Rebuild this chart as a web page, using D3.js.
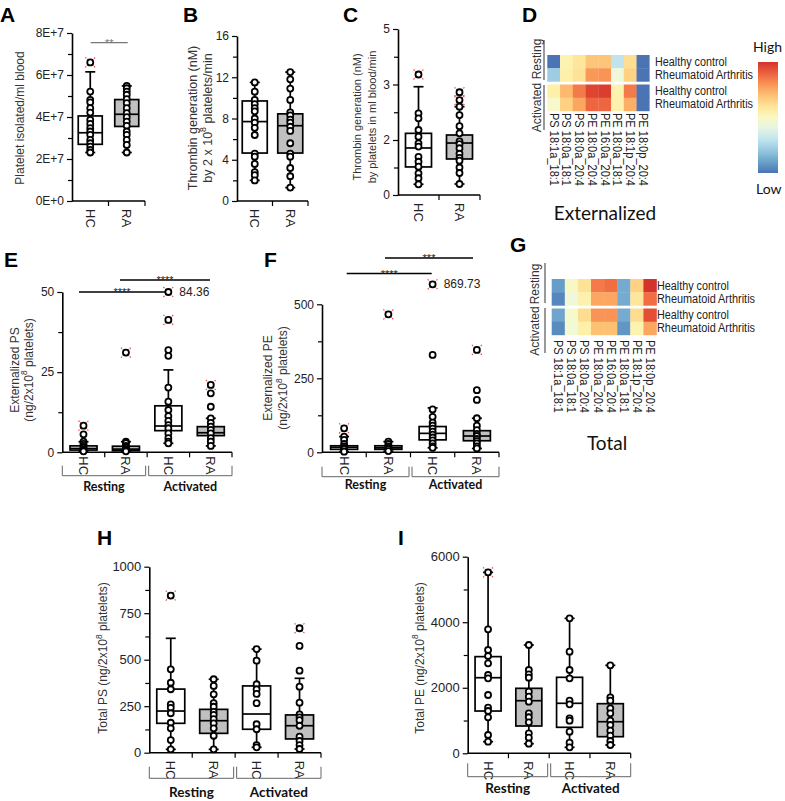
<!DOCTYPE html>
<html><head><meta charset="utf-8">
<script src="https://cdn.jsdelivr.net/npm/d3@7"></script>
<style>body{margin:0;background:#fff} svg{display:block}</style>
</head><body><svg id="c" width="785" height="801"></svg>
<script>
// ---------------- DATA ----------------
const twoCats = ["HC","RA"];
const fourCats = ["HC","RA","HC","RA"];
const conditions = ["Resting","Activated"];
const rowNames = ["Healthy control","Rheumatoid Arthritis"];
const lipids = ["PS 18:1a_18:1","PS 18:0a_18:1","PS 18:0a_20:4","PE 18:0a_20:4","PE 16:0a_20:4","PE 18:0a_18:1","PE 18:1p_20:4","PE 18:0p_20:4"];

// box stats: [low whisker, Q1, median, Q3, high whisker]
// Panel A
const aTicks = [0,2e7,4e7,6e7,8e7];
const aTickLabels = ["0E+0","2E+7","4E+7","6E+7","8E+7"];
const aMinor = [1e7,3e7,5e7,7e7];
const aStats = [[2.31e7,2.7e7,3.25e7,4.05e7,6.15e7],[2.31e7,3.55e7,4.13e7,4.83e7,5.48e7]];
const aPoints = [[5.21e7,4.82e7,4.7e7,4.42e7,4.21e7,3.86e7,3.67e7,3.47e7,3.31e7,3.15e7,2.91e7,2.75e7,2.59e7,2.43e7,2.31e7],
                 [5.48e7,5.37e7,5.21e7,5.06e7,4.85e7,4.66e7,4.42e7,4.18e7,3.99e7,3.78e7,3.58e7,3.31e7,3.15e7,2.91e7,2.67e7,2.31e7]];
const aOutliers = [[6.6e7],[]];
// Panel B
const bTicks = [0,4,8,12,16];
const bMinor = [2,6,10,14];
const bStats = [[2.0,4.65,7.7,9.7,11.5],[1.3,4.65,7.3,8.45,12.5]];
const bPoints = [[11.5,10.6,9.8,9.4,9.0,8.7,8.0,7.6,7.1,6.4,4.6,4.3,3.6,2.8,2.5,2.0],
                 [12.5,11.8,10.9,9.8,8.6,8.3,7.9,7.6,7.2,6.8,5.6,4.6,4.3,3.2,2.4,1.3]];
const bOutliers = [[],[]];
// Panel C
const cTicks = [0,2,3,5];
const cMinor = [1,2.5,4];
const cStats = [[0.39,1.02,1.71,2.12,2.96],[0.4,1.31,1.89,2.09,2.6]];
const cPoints = [[2.48,2.39,2.18,2.06,1.88,1.76,1.39,1.21,1.03,0.79,0.61,0.39],
                 [2.6,2.45,2.25,2.12,1.95,1.85,1.7,1.5,1.35,1.25,1.0,0.8,0.4]];
const cOutliers = [[3.36],[2.86,2.72]];
// Panel E (externalized PS)
const eTicks = [0,25,50];
const eMinor = [12.5,37.5];
const eStats = [[0.3,0.7,1.2,2.0,3.3],[0.3,0.5,1.0,1.9,3.3],[2.8,6.75,8.2,14.5,25.7],[2.0,5.2,6.1,8.0,10.6]];
const ePoints = [[5.6,3.3,2.6,2.0,1.5,1.0,0.6,0.3],[3.3,2.9,2.0,1.5,1.0,0.6,0.3],
                 [31.9,30.1,20.2,15.8,13.2,11.3,9.8,8.5,7.5,5.9,4.4,3.3,2.8],[18.4,14.2,10.6,9.2,8.0,7.0,5.9,4.4,3.3,2.0]];
const eOutliers = [[8.3],[31.1],[84.36,41.3],[21]];
// Panel F (externalized PE)
const fTicks = [0,250,500];
const fMinor = [125,375];
const fStats = [[2,10,17,22,53],[4,10,15,22,36],[15,42,64,87,150],[13,39,55,73,115]];
const fPoints = [[53,42,28,20,15,10,2],[36,28,20,15,10,4],
                 [329,145,120,100,90,80,70,60,50,40,30,20,15],[210,177,115,90,75,62,55,45,38,30,20,13]];
const fOutliers = [[81],[466],[869.73],[346]];
// Panel H (total PS)
const hTicks = [0,250,500,750,1000];
const hMinor = [125,375,625,875];
const hStats = [[18,158,224,342,615],[18,104,172,233,395],[29,126,208,359,557],[20,74,145,203,400]];
const hPoints = [[448,376,341,260,241,212,161,131,68,18],[395,359,314,266,247,220,203,181,158,131,91,18],
                 [557,495,368,341,316,266,153,126,41,29],[574,441,355,269,206,190,175,145,86,63,41,20]];
const hOutliers = [[845],[],[],[669]];
// Panel I (total PE)
const iTicks = [0,2000,4000,6000];
const iMinor = [1000,3000,5000];
const iStats = [[354,1290,2307,2950,5523],[293,833,1605,1983,3305],[183,793,1526,2319,4119],[253,507,964,1514,2685]];
const iPoints = [[3784,3152,2969,2746,2390,2289,1779,1392,1291,1099,558,354],[3305,2542,2411,2307,1880,1727,1575,1221,1100,946,610,476,293],
                 [4119,3100,2542,2289,1605,1495,1068,995,659,323,183],[2685,1709,1605,1373,1221,995,864,690,537,375,253]];
const iOutliers = [[5523],[],[],[]];
// Heatmaps (relative level 0 = low, 1 = high)
const dRestHC  = [0,0.54,0.59,0.69,0.69,0.30,0.62,0];
const dRestRA  = [0.22,0.56,0.61,0.79,0.80,0.44,0.66,0];
const dActHC   = [0.56,0.72,0.85,0.96,0.975,0.54,0.85,0];
const dActRA   = [0.475,0.66,0.76,0.89,0.89,0.55,0.74,0];
const gRestHC  = [0.09,0.49,0.61,0.85,0.875,0.125,0.66,1.0];
const gRestRA  = [0.04,0.44,0.55,0.76,0.76,0.125,0.59,0.875];
const gActHC   = [0.11,0.475,0.625,0.8,0.8,0.125,0.625,0.94];
const gActRA   = [0.05,0.45,0.56,0.7,0.7,0.075,0.54,0.76];

// ---------------- DRAW ----------------
const FONT = '"Liberation Sans", Arial, Helvetica, sans-serif';
const FONT2 = 'Lato, "Open Sans", sans-serif';
const svg = d3.select("#c");
svg.append("rect").attr("width",785).attr("height",801).attr("fill","#fff");
const heatColor = v => d3.interpolateRdYlBu(0.9 - 0.8*v);

function rich(sel, str, size){
  const parts = str.split(/(\{[^}]*\})/).filter(s=>s.length);
  let sup = false;
  parts.forEach(p=>{
    if (p[0]==="{"){
      sel.append("tspan").attr("font-size",size*0.7).attr("dy",-size*0.4).text(p.slice(1,-1));
      sup = true;
    } else {
      const t = sel.append("tspan").text(p);
      if (sup){ t.attr("dy",size*0.4); sup=false; }
    }
  });
}
function vlabel(x,y,str,size){
  const t = svg.append("text").attr("transform",`translate(${x},${y}) rotate(-90)`)
    .attr("text-anchor","middle").attr("dominant-baseline","central")
    .attr("font-family",FONT).attr("font-size",size).attr("fill","#333");
  rich(t,str,size);
}
function letter(x,y,s){
  svg.append("text").attr("x",x).attr("y",y).attr("font-family",FONT).attr("font-weight","bold")
    .attr("font-size",21).attr("fill","#000").text(s);
}
function sig(x1,x2,y,txt,color){
  svg.append("line").attr("x1",x1).attr("x2",x2).attr("y1",y).attr("y2",y).attr("stroke",color||"#000").attr("stroke-width",1.3);
  svg.append("text").attr("x",(x1+x2)/2).attr("y",y+4).attr("text-anchor","middle").attr("font-family",FONT)
    .attr("font-size",11).attr("fill",color||"#222").text(txt);
}

function boxPanel(c){
  const g = svg.append("g");
  const n = c.cats.length;
  const x = d3.scaleBand().domain(d3.range(n)).range([c.x0,c.x1]);
  const y = c.y;
  const yb = y(0);
  const ax = d3.axisLeft(y).tickValues(c.ticks).tickSize(5).tickSizeOuter(0).tickPadding(3)
    .tickFormat((d,i)=> c.tickLabels ? c.tickLabels[i] : d);
  const ga = g.append("g").attr("transform",`translate(${c.x0},0)`).call(ax)
    .attr("font-family",FONT).attr("font-size",c.fs||12);
  ga.select(".domain").attr("stroke","#000").attr("stroke-width",1.6);
  ga.selectAll(".tick line").attr("stroke","#000").attr("stroke-width",1.2);
  ga.selectAll(".tick text").attr("fill","#222");
  const gm = g.append("g").attr("transform",`translate(${c.x0},0)`)
    .call(d3.axisLeft(y).tickValues(c.minor).tickSize(4).tickFormat(""));
  gm.select(".domain").remove();
  gm.selectAll(".tick line").attr("stroke","#000").attr("stroke-width",1.2);
  // x axis
  g.append("line").attr("x1",c.x0).attr("x2",c.x1).attr("y1",yb).attr("y2",yb).attr("stroke","#000").attr("stroke-width",1.6);
  d3.range(1,n+1).forEach(i=>{
    const xx = c.x0 + i*x.bandwidth();
    g.append("line").attr("x1",xx).attr("x2",xx).attr("y1",yb).attr("y2",yb+5).attr("stroke","#000").attr("stroke-width",1.2);
  });
  // category labels
  c.cats.forEach((cat,i)=>{
    const cx = x(i)+x.bandwidth()/2;
    g.append("text").attr("transform",`translate(${cx},${yb+c.labOff}) rotate(90)`)
      .attr("dominant-baseline","central").attr("font-family",FONT).attr("font-size",c.cfs||13)
      .attr("fill","#222").text(cat);
  });
  // brackets
  if (c.bracket){
    const [bt,bb,ly,lfs] = c.bracket;
    const mid = (c.x0+c.x1)/2;
    [[c.x0,mid-1.5],[mid+1.5,c.x1]].forEach((r,k)=>{
      g.append("path").attr("d",`M${r[0]},${bt}V${bb}H${r[1]}V${bt}`).attr("fill","none").attr("stroke","#666").attr("stroke-width",1);
      g.append("text").attr("x",(r[0]+r[1])/2).attr("y",ly).attr("text-anchor","middle")
        .attr("font-family",FONT2).attr("font-weight","bold").attr("font-size",lfs).attr("fill","#111").text(conditions[k]);
    });
  }
  const ymax = c.ticks[c.ticks.length-1];
  const py = v => v > ymax ? y(ymax) - (c.overflow||0) : y(v);
  const bw = c.bw;
  const SW = 1.7;
  c.stats.forEach((s,i)=>{
    const cx = x(i)+x.bandwidth()/2;
    const fill = c.cats[i]==="RA" ? "#c0c0c0" : "#fff";
    g.append("line").attr("x1",cx).attr("x2",cx).attr("y1",y(s[3])).attr("y2",y(s[4])).attr("stroke","#000").attr("stroke-width",SW);
    g.append("line").attr("x1",cx).attr("x2",cx).attr("y1",y(s[1])).attr("y2",y(s[0])).attr("stroke","#000").attr("stroke-width",SW);
    [s[0],s[4]].forEach(v=>g.append("line").attr("x1",cx-5).attr("x2",cx+5).attr("y1",y(v)).attr("y2",y(v)).attr("stroke","#000").attr("stroke-width",SW));
    g.append("rect").attr("x",cx-bw/2).attr("width",bw).attr("y",y(s[3])).attr("height",y(s[1])-y(s[3]))
      .attr("fill",fill).attr("stroke","#000").attr("stroke-width",SW);
    g.append("line").attr("x1",cx-bw/2).attr("x2",cx+bw/2).attr("y1",y(s[2])).attr("y2",y(s[2])).attr("stroke","#000").attr("stroke-width",SW);
    c.outliers[i].forEach(v=>{
      const yy = py(v);
      [1,-1].forEach(d=>{
        g.append("line").attr("x1",cx-5).attr("x2",cx+5).attr("y1",yy+5*d).attr("y2",yy-5*d)
          .attr("stroke","#e8413c").attr("stroke-width",1.1).attr("stroke-dasharray","1.5,1");
      });
      g.append("circle").attr("cx",cx).attr("cy",yy).attr("r",3).attr("fill","#fff").attr("stroke","#000").attr("stroke-width",1.8);
      if (v > ymax){
        g.append("text").attr("x",cx+11).attr("y",yy).attr("dominant-baseline","central").attr("font-family",FONT)
          .attr("font-size",12).attr("fill","#222").text(d3.format(".2f")(v));
      }
    });
    c.points[i].forEach(v=>{
      g.append("circle").attr("cx",cx).attr("cy",y(v)).attr("r",3).attr("fill","#fff").attr("stroke","#000").attr("stroke-width",1.8);
    });
  });
}

function heatmap(c){
  const g = svg.append("g");
  const x = d3.scaleBand().domain(lipids).range([c.x0,c.x0+c.colW*lipids.length]);
  const blocks = [[c.rest,c.restTop],[c.act,c.actTop]];
  blocks.forEach(([rows,top])=>{
    rows.forEach((vals,r)=>{
      vals.forEach((v,j)=>{
        g.append("rect").attr("x",x(lipids[j])).attr("y",top+r*c.cellH).attr("width",x.bandwidth()+0.3).attr("height",c.cellH+0.3)
          .attr("fill",heatColor(v));
      });
      g.append("text").attr("x",c.rowX).attr("y",top+(r+0.5)*c.cellH).attr("dominant-baseline","central")
        .attr("font-family",FONT).attr("font-size",12).attr("fill","#222")
        .attr("textLength",r===0?72:98).attr("lengthAdjust","spacingAndGlyphs").text(rowNames[r]);
    });
  });
  [[c.restLine,c.restLabY,conditions[0]],[c.actLine,c.actLabY,conditions[1]]].forEach(([ln,ly,lab])=>{
    g.append("line").attr("x1",c.lineX).attr("x2",c.lineX).attr("y1",ln[0]).attr("y2",ln[1]).attr("stroke","#555").attr("stroke-width",1.2);
    g.append("text").attr("transform",`translate(${c.labX},${ly}) rotate(-90)`).attr("text-anchor","middle")
      .attr("dominant-baseline","central").attr("font-family",FONT).attr("font-size",12).attr("fill","#333").text(lab);
  });
  lipids.forEach(l=>{
    g.append("text").attr("transform",`translate(${x(l)+x.bandwidth()/2},${c.labTop}) rotate(90)`)
      .attr("dominant-baseline","central").attr("font-family",FONT).attr("font-size",12).attr("fill","#222")
      .attr("textLength",73).attr("lengthAdjust","spacingAndGlyphs").text(l);
  });
  g.append("text").attr("x",c.titleX).attr("y",c.titleY).attr("text-anchor","middle").attr("dominant-baseline","central")
    .attr("font-family",FONT2).attr("font-size",19).attr("fill","#111").text(c.title);
}

// Panel letters
letter(0,22,"A"); letter(183,22,"B"); letter(343,22,"C"); letter(522,22,"D");
letter(4,267,"E"); letter(264,267,"F"); letter(510,252,"G"); letter(97,545,"H"); letter(398,545,"I");

// A
boxPanel({cats:twoCats,x0:72,x1:145,y:d3.scaleLinear().domain([0,8e7]).range([201,33]),ticks:aTicks,tickLabels:aTickLabels,
  minor:aMinor,stats:aStats,points:aPoints,outliers:aOutliers,bw:24,labOff:8,fs:12});
vlabel(20,118,"Platelet isolated/ml blood",12);
sig(90.7,127.7,42.7,"**","#777");
// B
boxPanel({cats:twoCats,x0:237,x1:308,y:d3.scaleLinear().domain([0,16]).range([201,36]),ticks:bTicks,
  minor:bMinor,stats:bStats,points:bPoints,outliers:bOutliers,bw:25,labOff:8,fs:12});
vlabel(193,118,"Thrombin generation (nM)",12.5);
vlabel(208,118,"by 2 x 10{8} platelets/min",12.5);
// C
boxPanel({cats:twoCats,x0:398,x1:480,y:d3.scaleLinear().domain([0,2,3,5]).range([195,140,84.5,29]),ticks:cTicks,
  minor:cMinor,stats:cStats,points:cPoints,outliers:cOutliers,bw:26,labOff:8,fs:12});
vlabel(357,117,"Thrombin generation (nM)",11);
vlabel(372,117,"by platelets in ml blood/min",11);
// E
boxPanel({cats:fourCats,x0:62.3,x1:232,y:d3.scaleLinear().domain([0,50]).range([452.3,292]),ticks:eTicks,
  minor:eMinor,stats:eStats,points:ePoints,outliers:eOutliers,bw:27,labOff:4,fs:12,overflow:0,
  bracket:[465.7,475.7,491,12.5]});
vlabel(15,370,"Externalized PS",12);
vlabel(28.5,370,"(ng/2x10{8} platelets)",12);
sig(79,165,292,"****");
sig(120,210,280,"****");
// F
boxPanel({cats:fourCats,x0:322,x1:499,y:d3.scaleLinear().domain([0,500]).range([452.3,304.3]),ticks:fTicks,
  minor:fMinor,stats:fStats,points:fPoints,outliers:fOutliers,bw:27,labOff:4,fs:12,overflow:20,
  bracket:[466.7,476.7,489,12.5]});
vlabel(268.3,378,"Externalized PE",12);
vlabel(283.3,378,"(ng/2x10{8} platelets)",12);
sig(346.7,431.7,273.5,"****");
sig(385,473,258,"***");
// H
boxPanel({cats:fourCats,x0:149.3,x1:321,y:d3.scaleLinear().domain([0,1000]).range([752.7,566.7]),ticks:hTicks,
  minor:hMinor,stats:hStats,points:hPoints,outliers:hOutliers,bw:28,labOff:8,fs:13,
  bracket:[766.7,778.3,797,13.5]});
vlabel(103.3,658,"Total PS (ng/2x10{8} platelets)",12);
// I
boxPanel({cats:fourCats,x0:467.7,x1:630.7,y:d3.scaleLinear().domain([0,6000]).range([753.3,556.7]),ticks:iTicks,
  minor:iMinor,stats:iStats,points:iPoints,outliers:iOutliers,bw:26,labOff:8,fs:13,
  bracket:[763.3,776.7,793,13.5]});
vlabel(420,658,"Total PE (ng/2x10{8} platelets)",12);

// D heatmap
heatmap({x0:547.3,colW:12.75,rest:[dRestHC,dRestRA],act:[dActHC,dActRA],restTop:55,actTop:84.5,cellH:13.2,
  rowX:655,lineX:544,restLine:[40,80],actLine:[85,130],labX:537,restLabY:59,actLabY:107.5,labTop:113,
  title:"Externalized",titleX:605,titleY:212});
// G heatmap
heatmap({x0:551.7,colW:13.1,rest:[gRestHC,gRestRA],act:[gActHC,gActRA],restTop:279,actTop:308.5,cellH:13.2,
  rowX:657,lineX:545,restLine:[263,303],actLine:[308,353],labX:535,restLabY:284,actLabY:331,labTop:340,
  title:"Total",titleX:607,titleY:442});

// Color bar
const defs = svg.append("defs");
const grad = defs.append("linearGradient").attr("id","cb").attr("x1",0).attr("x2",0).attr("y1",0).attr("y2",1);
d3.range(0,1.0001,0.1).forEach(t=>grad.append("stop").attr("offset",t).attr("stop-color",heatColor(1-t)));
svg.append("rect").attr("x",758).attr("y",62).attr("width",20).attr("height",111).attr("fill","url(#cb)");
svg.append("text").attr("x",753).attr("y",46).attr("dominant-baseline","central").attr("font-family",FONT2).attr("font-size",14).attr("fill","#111").text("High");
svg.append("text").attr("x",756).attr("y",188).attr("dominant-baseline","central").attr("font-family",FONT2).attr("font-size",14).attr("fill","#111").text("Low");
</script></body></html>
